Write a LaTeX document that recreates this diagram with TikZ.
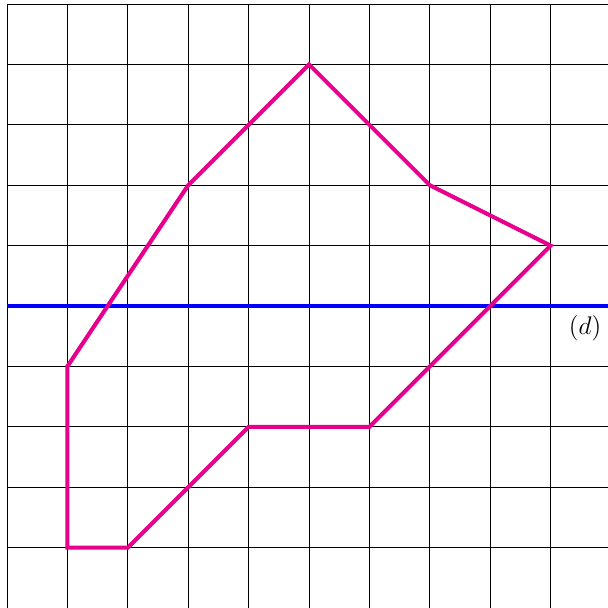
\documentclass[tikz,border=0pt]{standalone}
\usetikzlibrary{positioning}
\definecolor{shapepink}{RGB}{230,0,140}

\begin{document}
\begin{tikzpicture}

\useasboundingbox (-0.116,0) rectangle (9.95,10.066);

\draw[black, thin] (0,0) grid (10,10);

\coordinate (A) at (5,9);
\coordinate (B) at (7,7);
\coordinate (C) at (9,6);
\coordinate (D) at (6,3);
\coordinate (E) at (4,3);
\coordinate (F) at (2,1);
\coordinate (G) at (1,1);
\coordinate (H) at (1,4);
\coordinate (I) at (3,7);

\coordinate (L) at (0,5);
\coordinate (R) at (10.2,5);

\draw[blue, line width=2.2pt] (L) -- (R);
\node[font=\large] (d) at (9.57,4.63) {$(d)$};

\draw[shapepink, line width=1.9pt] (A) -- (B) -- (C) -- (D) -- (E) -- (F) -- (G) -- (H) -- (I) -- cycle;

\end{tikzpicture}
\end{document}
